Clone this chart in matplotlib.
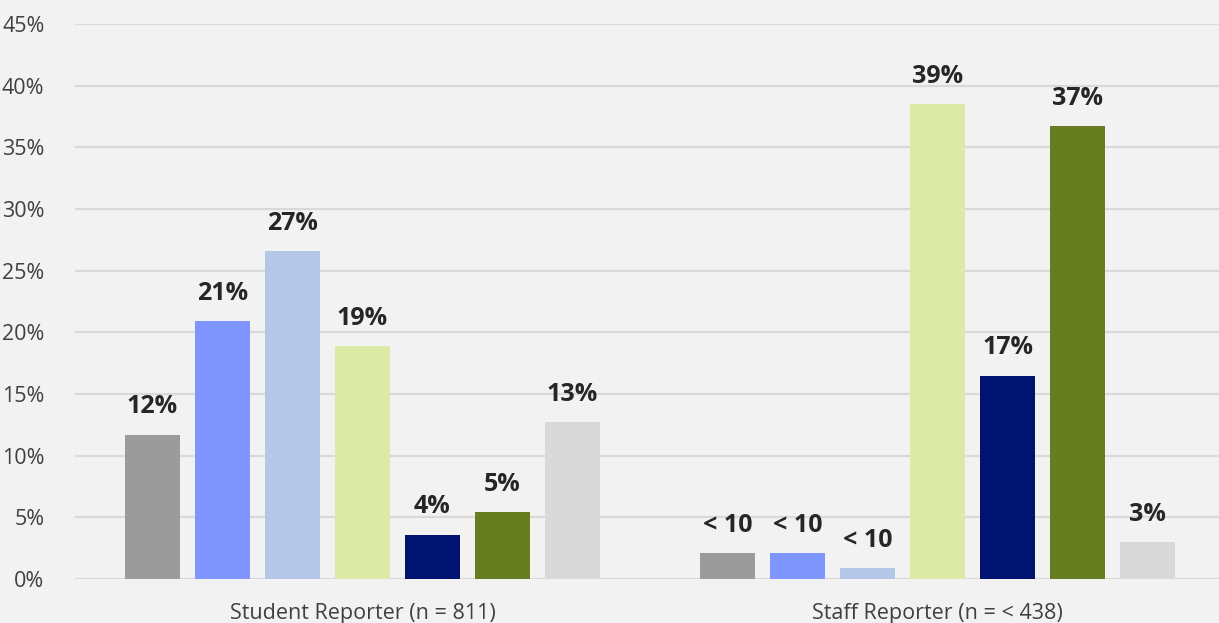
import numpy as np
import matplotlib.pyplot as plt

groups = ['Student Reporter (n = 811)', 'Staff Reporter (n = < 438)']
colors = ['#9b9b9b', '#7f96ff', '#b4c7e7', '#dbeba7', '#001370', '#677d1f', '#d9d9d9']

student = [11.7, 20.9, 26.6, 18.9, 3.6, 5.4, 12.7]
staff = [2.1, 2.1, 0.9, 38.5, 16.5, 36.7, 3.0]
student_labels = ['12%', '21%', '27%', '19%', '4%', '5%', '13%']
staff_labels = ['< 10', '< 10', '< 10', '39%', '17%', '37%', '3%']

plt.rcParams['font.family'] = ['Open Sans', 'DejaVu Sans']

fig = plt.figure(figsize=(12.19, 6.23), dpi=100, facecolor='#f2f2f2')
ax = fig.add_axes([75 / 1219, 1 - 579 / 623, 1 - 75 / 1219, (579 - 24) / 623])
ax.set_facecolor('#f2f2f2')

pitch = 70 / 575
width = 55 / 575
offsets = (np.arange(7) - 3) * pitch

for g, (vals, labels) in enumerate([(student, student_labels), (staff, staff_labels)]):
    x = g + offsets
    ax.bar(x, vals, width=width, color=colors, zorder=3)
    for xi, v, lab in zip(x, vals, labels):
        ax.annotate(lab, (xi, v), xytext=(0, 11), textcoords='offset points',
                    ha='center', va='bottom', fontsize=18, fontweight='bold',
                    color='#262626')

ax.set_xlim(-0.5, (1219 - 362.5) / 575)
ax.set_ylim(0, 45)
ax.set_yticks(np.arange(0, 46, 5))
ax.set_yticklabels([f'{t}%' for t in range(0, 46, 5)])
ax.set_xticks([0, 1])
ax.set_xticklabels(groups)
ax.grid(axis='y', color='#d9d9d9', linewidth=1.6, zorder=0)
ax.tick_params(length=0, labelsize=15.5, labelcolor='#404040')
ax.tick_params(axis='y', pad=22)
ax.tick_params(axis='x', pad=17)
for s in ax.spines.values():
    s.set_visible(False)

fig.savefig('out.png', dpi=100, facecolor=fig.get_facecolor())
